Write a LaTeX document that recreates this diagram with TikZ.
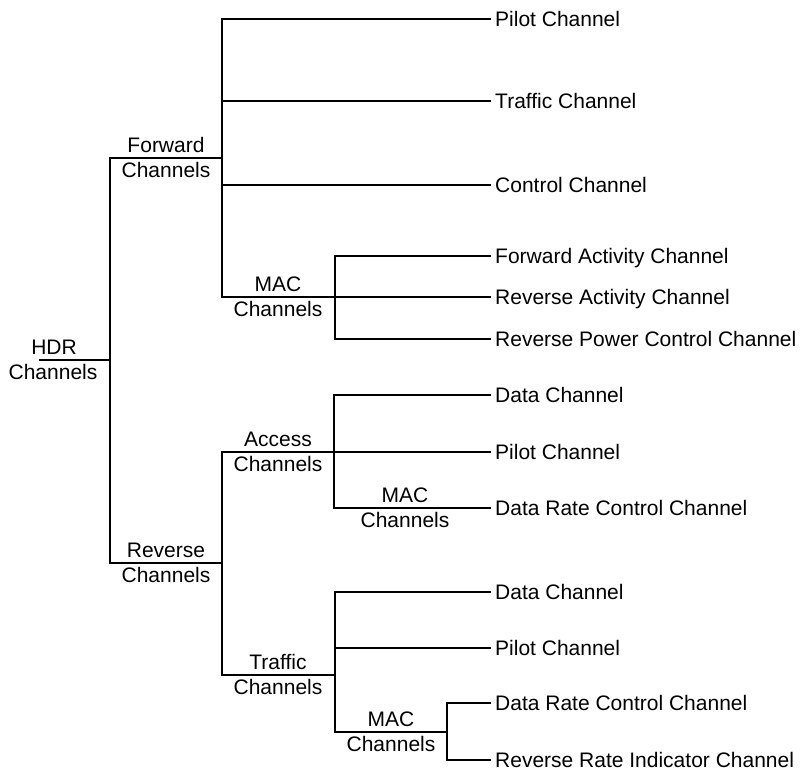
\documentclass[tikz,border=0pt]{standalone}
\usepackage{fontspec}
\setmainfont{Liberation Sans}
\begin{document}
\begin{tikzpicture}[x=1pt,y=-1pt,
  font=\fontsize{21}{25}\selectfont,
  wire/.style={line width=1.6pt, line cap=rect},
  leaf/.style={anchor=west, inner xsep=5pt, inner ysep=0pt, text height=15pt, text depth=0pt},
  lbl/.style={anchor=base, inner sep=0pt}]
\useasboundingbox (0,0) rectangle (806,769);
% junctions
\coordinate (hdrs) at (40,360);
\coordinate (hdrj) at (110,360);
\coordinate (fwdj) at (222,158);
\coordinate (fmacj) at (335,297);
\coordinate (revj) at (222,563);
\coordinate (accj) at (334,452);
\coordinate (trfj) at (335,675);
\coordinate (tmacj) at (447,732);
% leaves
\node[leaf] (pilot1) at (490,19) {Pilot Channel};
\node[leaf] (traffic1) at (490,101) {Traffic Channel};
\node[leaf] (control1) at (490,185) {Control Channel};
\node[leaf] (fact) at (490,256) {Forward Activity Channel};
\node[leaf] (ract) at (490,297) {Reverse Activity Channel};
\node[leaf] (rpc) at (490,339) {Reverse Power Control Channel};
\node[leaf] (data1) at (490,395) {Data Channel};
\node[leaf] (pilot2) at (490,452) {Pilot Channel};
\node[leaf] (drc1) at (490,508) {Data Rate Control Channel};
\node[leaf] (data2) at (490,592) {Data Channel};
\node[leaf] (pilot3) at (490,648) {Pilot Channel};
\node[leaf] (drc2) at (490,703) {Data Rate Control Channel};
\node[leaf] (rri) at (490,760) {Reverse Rate Indicator Channel};
% labels
\node[lbl] (hdrA) at (54,354) {HDR};
\node[lbl] (hdrB) at (53,379) {Channels};
\node[lbl] (fwdA) at (166,152) {Forward};
\node[lbl] (fwdB) at (166,177) {Channels};
\node[lbl] (fmacA) at (278,291) {MAC};
\node[lbl] (fmacB) at (278,316) {Channels};
\node[lbl] (revA) at (166,557) {Reverse};
\node[lbl] (revB) at (166,582) {Channels};
\node[lbl] (accA) at (278,446) {Access};
\node[lbl] (accB) at (278,471) {Channels};
\node[lbl] (amacA) at (405,502) {MAC};
\node[lbl] (amacB) at (405,527) {Channels};
\node[lbl] (trfA) at (278,669) {Traffic};
\node[lbl] (trfB) at (278,694) {Channels};
\node[lbl] (tmacA) at (391,726) {MAC};
\node[lbl] (tmacB) at (391,751) {Channels};
% connectors
\draw[wire] (hdrs) -- (hdrj);
\draw[wire] (hdrj) |- (fwdj);
\draw[wire] (hdrj) |- (revj);
\draw[wire] (fwdj) |- (pilot1.west);
\draw[wire] (fwdj) |- (traffic1.west);
\draw[wire] (fwdj) |- (control1.west);
\draw[wire] (fwdj) |- (fmacj);
\draw[wire] (fmacj) |- (fact.west);
\draw[wire] (fmacj) |- (ract.west);
\draw[wire] (fmacj) |- (rpc.west);
\draw[wire] (revj) |- (accj);
\draw[wire] (revj) |- (trfj);
\draw[wire] (accj) |- (data1.west);
\draw[wire] (accj) |- (pilot2.west);
\draw[wire] (accj) |- (drc1.west);
\draw[wire] (trfj) |- (data2.west);
\draw[wire] (trfj) |- (pilot3.west);
\draw[wire] (trfj) |- (tmacj);
\draw[wire] (tmacj) |- (drc2.west);
\draw[wire] (tmacj) |- (rri.west);
\end{tikzpicture}
\end{document}
